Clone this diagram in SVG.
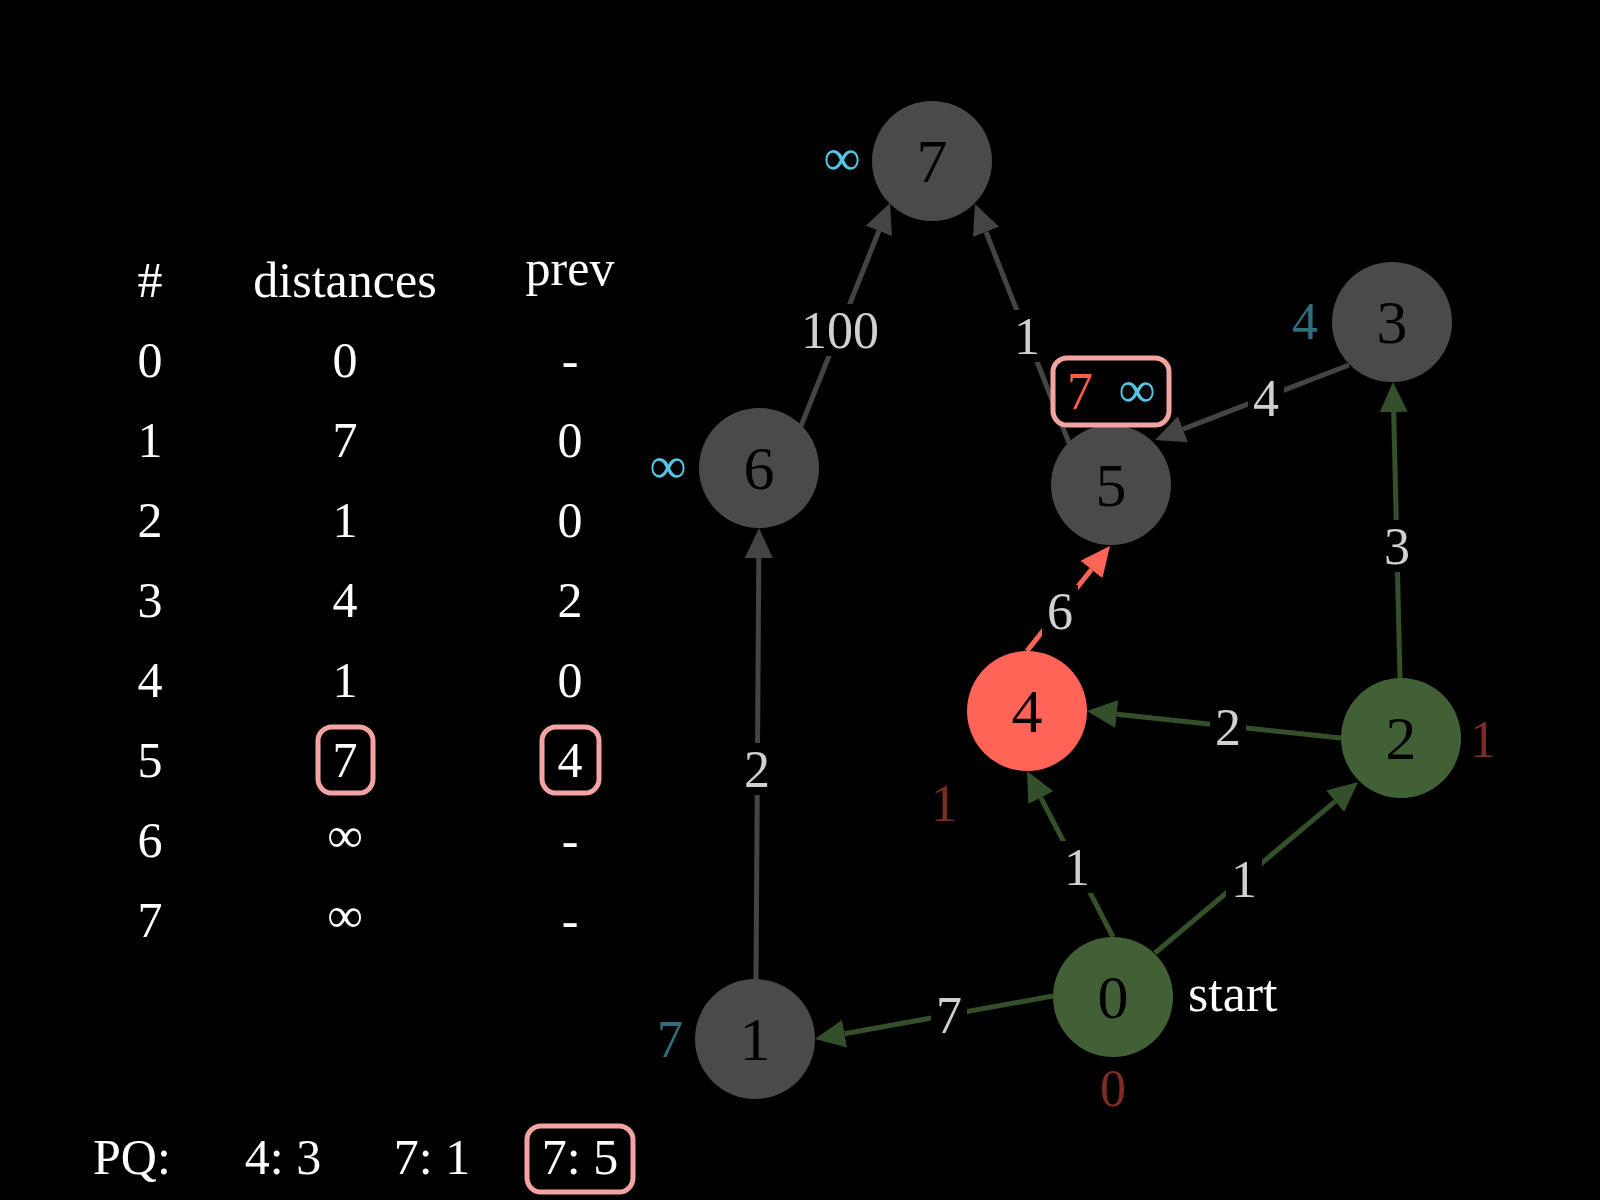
<svg xmlns="http://www.w3.org/2000/svg" width="1600" height="1200" viewBox="0 0 1600 1200">
<defs>
<style>
text{font-family:"Liberation Serif","Times New Roman",serif;}
.tbl{fill:#ffffff;font-size:50px;text-anchor:middle;}
.nodeC{stroke:none;}
.gray{fill:#4a4a4a;}
.green{fill:#416036;}
.red{fill:#ff6457;}
.nlab{fill:#000;font-size:62px;text-anchor:middle;}
.elab{fill:#d0d0d0;font-size:52px;text-anchor:middle;}
.lbg{fill:#000;}
.eg{stroke:#444444;stroke-width:5;fill:none;}
.egr{stroke:#34502a;stroke-width:5;fill:none;}
.er{stroke:#ff6457;stroke-width:5;fill:none;}
.cyan{fill:#52c6e4;}
.teal{fill:#2e6e7e;}
.dred{fill:#7d2b23;}
.dist{font-size:52px;text-anchor:middle;}
.hl{fill:none;stroke:#f4a3a3;stroke-width:5;}
.hlf{fill:#000;stroke:#f4a3a3;stroke-width:5;}
</style>
<marker id="ag" markerUnits="userSpaceOnUse" markerWidth="30" markerHeight="28" viewBox="0 0 30 28" refX="0" refY="14" orient="auto"><path d="M0,0 L30,14 L0,28 z" fill="#444444"/></marker>
<marker id="agr" markerUnits="userSpaceOnUse" markerWidth="30" markerHeight="28" viewBox="0 0 30 28" refX="0" refY="14" orient="auto"><path d="M0,0 L30,14 L0,28 z" fill="#34502a"/></marker>
<marker id="ar" markerUnits="userSpaceOnUse" markerWidth="30" markerHeight="28" viewBox="0 0 30 28" refX="0" refY="14" orient="auto"><path d="M0,0 L30,14 L0,28 z" fill="#ff6457"/></marker>
</defs>
<rect x="0" y="0" width="1600" height="1200" fill="#000"/>

<g id="table">
<text class="tbl" x="150" y="297">#</text>
<text class="tbl" x="345" y="297">distances</text>
<text class="tbl" x="570" y="285">prev</text>
<text class="tbl" x="150" y="377">0</text><text class="tbl" x="345" y="377">0</text><text class="tbl" x="570" y="377">-</text>
<text class="tbl" x="150" y="457">1</text><text class="tbl" x="345" y="457">7</text><text class="tbl" x="570" y="457">0</text>
<text class="tbl" x="150" y="537">2</text><text class="tbl" x="345" y="537">1</text><text class="tbl" x="570" y="537">0</text>
<text class="tbl" x="150" y="617">3</text><text class="tbl" x="345" y="617">4</text><text class="tbl" x="570" y="617">2</text>
<text class="tbl" x="150" y="697">4</text><text class="tbl" x="345" y="697">1</text><text class="tbl" x="570" y="697">0</text>
<text class="tbl" x="150" y="777">5</text><text class="tbl" x="345" y="777">7</text><text class="tbl" x="570" y="777">4</text>
<text class="tbl" x="150" y="857">6</text><text class="tbl" x="345" y="852">∞</text><text class="tbl" x="570" y="857">-</text>
<text class="tbl" x="150" y="937">7</text><text class="tbl" x="345" y="932">∞</text><text class="tbl" x="570" y="937">-</text>
<rect class="hl" x="318" y="727" width="55" height="66" rx="14"/>
<rect class="hl" x="542" y="727" width="57" height="66" rx="14"/>
</g>

<g id="pq">
<text class="tbl" x="93" y="1174" style="text-anchor:start">PQ:</text>
<text class="tbl" x="283" y="1174">4: 3</text>
<text class="tbl" x="432" y="1174">7: 1</text>
<text class="tbl" x="580" y="1174">7: 5</text>
<rect class="hl" x="527" y="1126" width="106" height="66" rx="14"/>
</g>

<g id="edges">
<g id="e6-7"><line class="eg" x1="801" y1="426" x2="878.9" y2="230.9" marker-end="url(#ag)"/><rect class="lbg" x="796" y="304" width="88" height="52"/><text class="elab" x="840" y="348">100</text></g>
<g id="e5-7"><line class="eg" x1="1069" y1="443" x2="986" y2="231.9" marker-end="url(#ag)"/><rect class="lbg" x="1009" y="310" width="36" height="52"/><text class="elab" x="1027" y="354">1</text></g>
<g id="e3-5"><line class="eg" x1="1349" y1="365" x2="1183" y2="429.2" marker-end="url(#ag)"/><rect class="lbg" x="1248" y="372" width="36" height="52"/><text class="elab" x="1266" y="416">4</text></g>
<g id="e2-3"><line class="egr" x1="1400" y1="678" x2="1393.7" y2="412" marker-end="url(#agr)"/><rect class="lbg" x="1379" y="520" width="36" height="52"/><text class="elab" x="1397" y="564">3</text></g>
<g id="e4-5"><line class="er" x1="1027" y1="651" x2="1091.4" y2="569.5" marker-end="url(#ar)"/><rect class="lbg" x="1042" y="585" width="36" height="52"/><text class="elab" x="1060" y="629">6</text></g>
<g id="e2-4"><line class="egr" x1="1341" y1="738" x2="1116.8" y2="714.2" marker-end="url(#agr)"/><rect class="lbg" x="1210" y="701" width="36" height="52"/><text class="elab" x="1228" y="745">2</text></g>
<g id="e0-4"><line class="egr" x1="1113" y1="937" x2="1040.8" y2="797.6" marker-end="url(#agr)"/><rect class="lbg" x="1059" y="841" width="36" height="52"/><text class="elab" x="1077" y="885">1</text></g>
<g id="e0-2"><line class="egr" x1="1155" y1="953" x2="1335.1" y2="801.3" marker-end="url(#agr)"/><rect class="lbg" x="1226" y="853" width="36" height="52"/><text class="elab" x="1244" y="897">1</text></g>
<g id="e0-1"><line class="egr" x1="1053" y1="996" x2="844.5" y2="1033.7" marker-end="url(#agr)"/><rect class="lbg" x="931" y="989" width="36" height="52"/><text class="elab" x="949" y="1033">7</text></g>
<g id="e1-6"><line class="eg" x1="756" y1="979" x2="758.8" y2="558" marker-end="url(#ag)"/><rect class="lbg" x="739" y="743" width="36" height="52"/><text class="elab" x="757" y="787">2</text></g>
</g>

<g id="node7"><circle class="gray" cx="932" cy="161" r="60"/><text class="nlab" x="932" y="182">7</text><text class="dist cyan" x="842" y="175">∞</text></g>
<g id="node6"><circle class="gray" cx="759" cy="468" r="60"/><text class="nlab" x="759" y="489">6</text><text class="dist cyan" x="668" y="483">∞</text></g>
<g id="node3"><circle class="gray" cx="1392" cy="322" r="60"/><text class="nlab" x="1392" y="343">3</text><text class="dist teal" x="1305" y="339">4</text></g>
<g id="node5"><circle class="gray" cx="1111" cy="485" r="60"/><text class="nlab" x="1111" y="506">5</text>
<rect class="hlf" x="1053" y="358" width="116" height="67" rx="14"/>
<text class="dist" x="1080" y="409" style="fill:#ff5a4a">7</text><text class="dist cyan" x="1137" y="407">∞</text></g>
<g id="node4"><circle class="red" cx="1027" cy="711" r="60"/><text class="nlab" x="1027" y="732">4</text><text class="dist dred" x="944" y="821">1</text></g>
<g id="node2"><circle class="green" cx="1401" cy="738" r="60"/><text class="nlab" x="1401" y="759">2</text><text class="dist dred" x="1483" y="757">1</text></g>
<g id="node0"><circle class="green" cx="1113" cy="997" r="60"/><text class="nlab" x="1113" y="1018">0</text><text class="dist dred" x="1113" y="1106">0</text><text x="1188" y="1011" style="fill:#fff;font-size:52px">start</text></g>
<g id="node1"><circle class="gray" cx="755" cy="1039" r="60"/><text class="nlab" x="755" y="1060">1</text><text class="dist teal" x="670" y="1057">7</text></g>
</svg>
